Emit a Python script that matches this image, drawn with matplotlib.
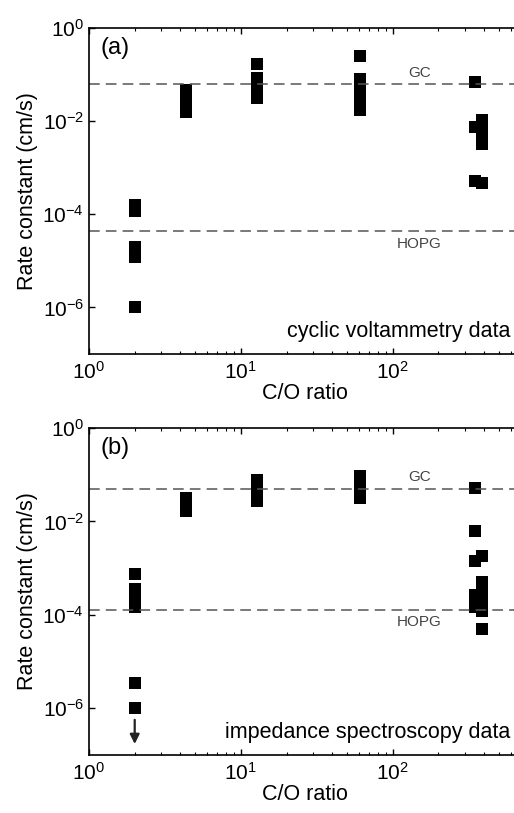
import matplotlib
matplotlib.use("Agg")
import matplotlib.pyplot as plt
import matplotlib.ticker as mticker

plt.rcParams["font.family"] = ["Liberation Sans", "DejaVu Sans"]
plt.rcParams["mathtext.fontset"] = "custom"
plt.rcParams["mathtext.rm"] = "Liberation Sans"
plt.rcParams["mathtext.it"] = "Liberation Sans"

# C/O ratio of each sample
co_ratio = [2.0, 4.35, 12.7, 60.5, 347, 390]

# (a) cyclic voltammetry rate constants (cm/s), one list per C/O ratio
cv_k = [
    [1.6e-4, 1.15e-4, 2.0e-5, 1.2e-5, 1.0e-6],
    [0.046, 0.036, 0.028, 0.021, 0.016],
    [0.17, 0.083, 0.062, 0.044, 0.031],
    [0.245, 0.079, 0.059, 0.042, 0.031, 0.023, 0.017],
    [0.069, 0.0075, 5.2e-4],
    [0.0105, 0.0072, 0.0048, 0.0032, 4.7e-4],
]

# (b) impedance spectroscopy rate constants (cm/s)
eis_k = [
    [7.5e-4, 3.5e-4, 2.6e-4, 2.0e-4, 1.5e-4, 3.4e-6, 1.0e-6],
    [0.031, 0.023, 0.017],
    [0.076, 0.056, 0.040, 0.028],
    [0.092, 0.065, 0.046, 0.032],
    [0.053, 0.0063, 0.0014, 2.7e-4, 1.5e-4],
    [0.0018, 5.0e-4, 3.6e-4, 2.5e-4, 1.7e-4, 1.2e-4, 5.0e-5],
]

# reference electrodes (GC, HOPG)
ref_names = ["GC", "HOPG"]
cv_ref = [0.062, 4.3e-5]
eis_ref = [0.050, 1.3e-4]

panels = [
    ("(a)", "cyclic voltammetry data", cv_k, cv_ref),
    ("(b)", "impedance spectroscopy data", eis_k, eis_ref),
]

W, H = 514, 813
fig = plt.figure(figsize=(W / 100, H / 100), dpi=100)

# axes boxes in pixels: left, top, right, bottom
boxes = [(89, 28, 521, 354), (89, 428, 521, 755)]

for (tag, note, data, refs), (l, t, r, b) in zip(panels, boxes):
    ax = fig.add_axes([l / W, 1 - b / H, (r - l) / W, (b - t) / H])
    ax.set_xscale("log")
    ax.set_yscale("log")
    ax.set_xlim(1, 700)
    ax.set_ylim(1e-7, 1)

    for x, ks in zip(co_ratio, data):
        ax.plot([x] * len(ks), ks, "s", color="black", markersize=8.5,
                markeredgewidth=0, linestyle="none")

    for name, val in zip(ref_names, refs):
        ax.axhline(val, color="#555555", linewidth=1.1, dashes=(7, 4))
    ax.text(150, refs[0] * 1.25, ref_names[0], fontsize=11, color="#444444",
            ha="center", va="bottom")
    ax.text(150, refs[1] / 1.3, ref_names[1], fontsize=11, color="#444444",
            ha="center", va="top")

    ax.text(0.06, 0.94, tag, transform=ax.transAxes, fontsize=17,
            ha="center", va="center")
    ax.text(0.975, 0.07, note, transform=ax.transAxes, fontsize=15.5,
            ha="right", va="center")

    ax.yaxis.set_major_locator(mticker.FixedLocator([1, 1e-2, 1e-4, 1e-6]))
    ax.yaxis.set_minor_locator(mticker.NullLocator())
    ax.yaxis.set_major_formatter(mticker.LogFormatterMathtext())
    ax.xaxis.set_major_locator(mticker.LogLocator(base=10))
    ax.xaxis.set_minor_locator(mticker.LogLocator(base=10, subs=range(2, 10)))
    ax.tick_params(which="both", direction="in", top=True, labelsize=15)
    ax.tick_params(which="major", length=4, width=1)
    ax.tick_params(which="minor", length=2.5, width=0.8)
    ax.tick_params(axis="x", pad=5)
    for s in ax.spines.values():
        s.set_linewidth(1.2)

    ax.set_xlabel("C/O ratio", fontsize=15.5, labelpad=0)
    ax.set_ylabel("Rate constant (cm/s)", fontsize=15.5, labelpad=3)

    if tag == "(b)":
        ax.annotate("", xy=(2.0, 1.5e-7), xytext=(2.0, 6.5e-7),
                    arrowprops=dict(arrowstyle="-|>", color="#222222",
                                    lw=1.6, mutation_scale=14))

fig.savefig("out.png", dpi=100)
